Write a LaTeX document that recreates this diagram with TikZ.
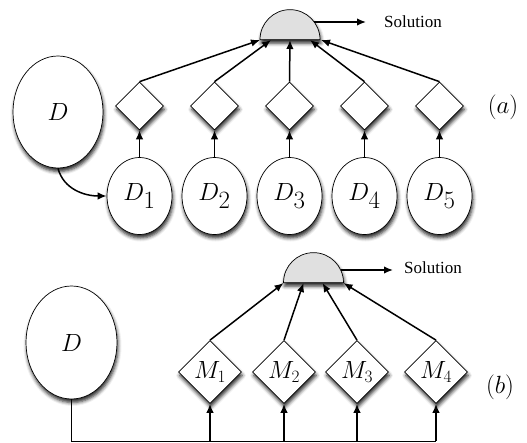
\documentclass[tikz,border=0pt]{standalone}
\usepackage{fontspec}
\newfontfamily\solfont{Liberation Serif}
\usetikzlibrary{arrows.meta,shapes.geometric,shadows.blur}

\begin{document}
\begin{tikzpicture}[
  x=1pt, y=-1pt,
  shd/.style={blur shadow={shadow xshift=1pt, shadow yshift=-3.5pt,
              shadow blur radius=3.5pt, shadow opacity=85}},
  blob/.style={draw, line width=0.7pt, ellipse, fill=white, inner sep=0pt, shd,
               font=\fontsize{35}{38}\selectfont},
  dmd/.style={draw, line width=0.7pt, diamond, aspect=1, fill=white, inner sep=0pt, shd,
              font=\fontsize{26}{30}\selectfont},
  dome/.style={draw, line width=0.7pt, semicircle, fill=black!12, inner sep=0pt, shd,
               minimum width=60pt, minimum height=30pt, anchor=chord center},
  ar/.style={-{Latex[length=9pt, width=7.5pt]}, line width=1.5pt},
  bus/.style={line width=0.7pt},
  lab/.style={font=\fontsize{34}{38}\selectfont, inner sep=0pt},
  sol/.style={font=\solfont\fontsize{17}{20}\selectfont, anchor=west, inner sep=0pt},
]
\useasboundingbox (0,0) rectangle (527,442);

% (a) split data, one model per part
\node[blob, minimum width=90pt, minimum height=112pt] (dA) at (58,112) {$D$};
\node[blob, minimum width=65pt, minimum height=77pt] (d1) at (139.5,196) {$D_1$};
\node[blob, minimum width=65pt, minimum height=77pt] (d2) at (214.5,196) {$D_2$};
\node[blob, minimum width=65pt, minimum height=77pt] (d3) at (289.5,196) {$D_3$};
\node[blob, minimum width=65pt, minimum height=77pt] (d4) at (364.5,196) {$D_4$};
\node[blob, minimum width=65pt, minimum height=77pt] (d5) at (439.5,196) {$D_5$};

\node[dmd, minimum width=48pt, minimum height=48pt] (k1) at (139.5,106) {};
\node[dmd, minimum width=48pt, minimum height=48pt] (k2) at (214.5,106) {};
\node[dmd, minimum width=48pt, minimum height=48pt] (k3) at (289.5,106) {};
\node[dmd, minimum width=48pt, minimum height=48pt] (k4) at (364.5,106) {};
\node[dmd, minimum width=48pt, minimum height=48pt] (k5) at (439.5,106) {};

\node[dome] (domeA) at (290,40) {};
\coordinate (outA) at (366,22);
\node[sol] (solA) at (384,22) {Solution};
\node[lab] (labA) at (503,107) {$(a)$};

\draw[ar] (dA.south) to[out=-75, in=180] (d1.west);
\draw[ar] (d1) -- (k1);
\draw[ar] (d2) -- (k2);
\draw[ar] (d3) -- (k3);
\draw[ar] (d4) -- (k4);
\draw[ar] (d5) -- (k5);
\draw[ar] (k1.north) -- ([xshift=-30pt]domeA.chord center);
\draw[ar] (k2.north) -- ([xshift=-19pt]domeA.chord center);
\draw[ar] (k3.north) -- (domeA.chord center);
\draw[ar] (k4.north) -- ([xshift=20pt]domeA.chord center);
\draw[ar] (k5.north) -- ([xshift=31pt]domeA.chord center);
\draw[ar] ([xshift=24pt, yshift=18pt]domeA.chord center) -- (outA);

% (b) same data, several models
\node[blob, minimum width=91pt, minimum height=113pt] (dB) at (71.5,342.5) {$D$};

\node[dmd, minimum width=63pt, minimum height=63pt] (m1) at (210,372) {$M_1$};
\node[dmd, minimum width=63pt, minimum height=63pt] (m2) at (284,372) {$M_2$};
\node[dmd, minimum width=63pt, minimum height=63pt] (m3) at (357,372) {$M_3$};
\node[dmd, minimum width=63pt, minimum height=63pt] (m4) at (436,372) {$M_4$};

\node[dome] (domeB) at (313.5,283) {};
\coordinate (outB) at (393,270);
\node[sol] (solB) at (404,268) {Solution};
\node[lab] (labB) at (500,387) {$(b)$};

\coordinate (busEnd) at (436,441);
\draw[bus] (dB.south) |- (busEnd);
\draw[ar] (m1.south |- busEnd) -- (m1.south);
\draw[ar] (m2.south |- busEnd) -- (m2.south);
\draw[ar] (m3.south |- busEnd) -- (m3.south);
\draw[ar] (m4.south |- busEnd) -- (m4.south);
\draw[ar] (m1.north) -- ([xshift=-30pt]domeB.chord center);
\draw[ar] (m2.north) -- ([xshift=-10pt]domeB.chord center);
\draw[ar] (m3.north) -- ([xshift=9pt]domeB.chord center);
\draw[ar] (m4.north) -- ([xshift=30pt]domeB.chord center);
\draw[ar] ([xshift=27pt, yshift=13pt]domeB.chord center) -- (outB);
\end{tikzpicture}
\end{document}
